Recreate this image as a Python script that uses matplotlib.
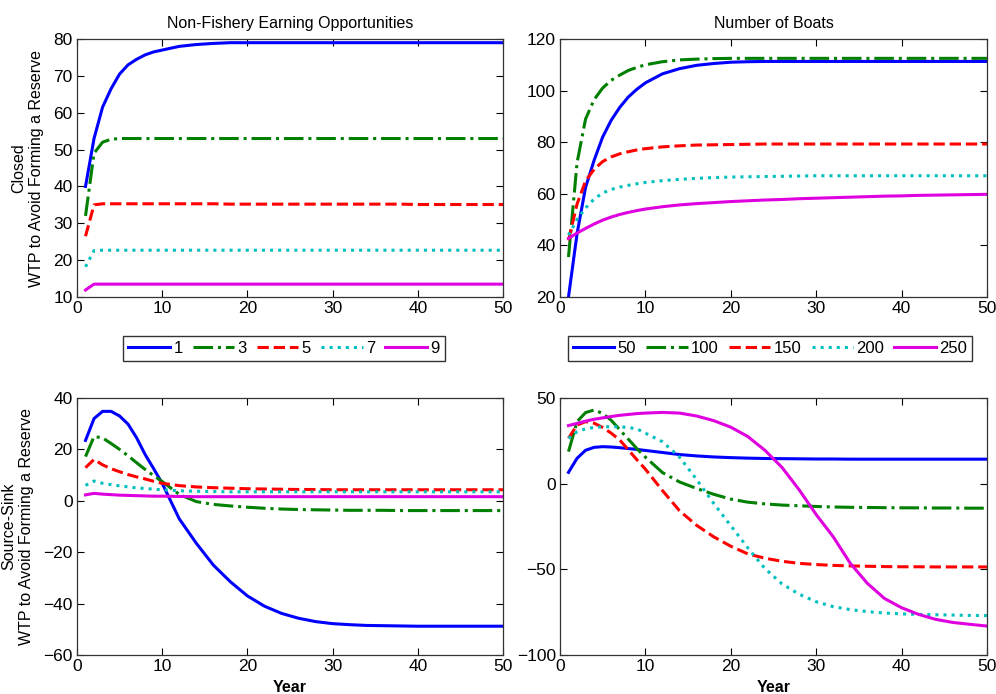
import matplotlib
matplotlib.use("Agg")
import matplotlib.pyplot as plt
from matplotlib.lines import Line2D

plt.rcParams["font.family"] = ["Liberation Sans", "DejaVu Sans"]

years = [1, 2, 3, 4, 5, 6, 7, 8, 9, 10, 12, 14, 16, 18, 20,
         22, 24, 26, 28, 30, 32, 34, 36, 38, 40, 42, 44, 46, 48, 50]

earning_labels = ["1", "3", "5", "7", "9"]
boat_labels = ["50", "100", "150", "200", "250"]

# Closed fishery, non-fishery earning opportunities
closed_earn_1 = [40, 53, 61.5, 66.5, 70.5, 73, 74.5, 75.7, 76.5, 77, 78, 78.5, 78.8, 79, 79,
                 79, 79, 79, 79, 79, 79, 79, 79, 79, 79, 79, 79, 79, 79, 79]
closed_earn_3 = [32, 49, 52, 52.8, 53, 53, 53, 53, 53, 53, 53, 53, 53, 53, 53,
                 53, 53, 53, 53, 53, 53, 53, 53, 53, 53, 53, 53, 53, 53, 53]
closed_earn_5 = [26.5, 35, 35.3, 35.3, 35.3, 35.3, 35.3, 35.3, 35.3, 35.3, 35.3, 35.3, 35.3, 35.2, 35.2,
                 35.2, 35.2, 35.2, 35.2, 35.2, 35.2, 35.2, 35.2, 35.2, 35.1, 35.1, 35.1, 35.1, 35.1, 35.1]
closed_earn_7 = [18.2, 22.6, 22.7, 22.7, 22.7, 22.7, 22.7, 22.7, 22.7, 22.7, 22.7, 22.7, 22.7, 22.7, 22.7,
                 22.7, 22.7, 22.7, 22.7, 22.7, 22.7, 22.7, 22.7, 22.7, 22.7, 22.7, 22.7, 22.7, 22.7, 22.7]
closed_earn_9 = [11.9, 13.5, 13.5, 13.5, 13.5, 13.5, 13.5, 13.5, 13.5, 13.5, 13.5, 13.5, 13.5, 13.5, 13.5,
                 13.5, 13.5, 13.5, 13.5, 13.5, 13.5, 13.5, 13.5, 13.5, 13.5, 13.5, 13.5, 13.5, 13.5, 13.5]

# Closed fishery, number of boats
closed_boats_50 = [20, 44.5, 62.5, 73, 82, 88.5, 93.5, 97.5, 100.5, 103, 106.5, 108.5, 109.8, 110.5, 111,
                   111.2, 111.3, 111.3, 111.3, 111.3, 111.3, 111.3, 111.3, 111.3, 111.3, 111.3, 111.3, 111.3, 111.3, 111.3]
closed_boats_100 = [35.5, 72, 89, 96.5, 101, 104, 106, 107.8, 109, 110, 111.2, 111.9, 112.2, 112.4, 112.5,
                    112.5, 112.5, 112.5, 112.5, 112.5, 112.5, 112.5, 112.5, 112.5, 112.5, 112.5, 112.5, 112.5, 112.5, 112.5]
closed_boats_150 = [42, 56, 65, 69.5, 72.5, 74.3, 75.5, 76.3, 77, 77.5, 78.2, 78.6, 78.9, 79, 79.1,
                    79.2, 79.3, 79.3, 79.3, 79.3, 79.3, 79.3, 79.3, 79.3, 79.3, 79.3, 79.3, 79.3, 79.3, 79.3]
closed_boats_200 = [44, 50, 54.5, 58, 60.3, 61.7, 62.6, 63.3, 63.9, 64.4, 65.1, 65.6, 66, 66.3, 66.5,
                    66.6, 66.7, 66.8, 66.9, 67, 67, 67, 67, 67, 67, 67, 67, 67, 67, 67]
closed_boats_250 = [42.7, 44.8, 46.6, 48.3, 49.8, 51, 52, 52.8, 53.5, 54.1, 55, 55.7, 56.2, 56.6, 57,
                    57.3, 57.6, 57.8, 58.1, 58.3, 58.5, 58.7, 58.9, 59.1, 59.2, 59.4, 59.5, 59.6, 59.7, 59.8]

# Source-sink, non-fishery earning opportunities
ss_earn_1 = [23.5, 32, 34.8, 34.8, 33, 29.8, 24.5, 18, 12.5, 6.8, -7, -16.5, -25, -31.5, -37,
             -41, -43.8, -45.7, -47, -47.8, -48.2, -48.5, -48.6, -48.7, -48.8, -48.8, -48.8, -48.8, -48.8, -48.8]
ss_earn_3 = [17.2, 25, 24.5, 22.3, 20, 17.5, 14.8, 12.2, 9.8, 7.5, 2.5, -0.3, -1.4, -2, -2.5,
             -2.9, -3.2, -3.4, -3.5, -3.6, -3.7, -3.7, -3.7, -3.8, -3.8, -3.8, -3.8, -3.8, -3.8, -3.8]
ss_earn_5 = [12.9, 16.1, 14, 12.5, 11.3, 10.2, 9.3, 8.5, 7.6, 6.8, 5.9, 5.4, 5.1, 4.9, 4.7,
             4.6, 4.5, 4.4, 4.4, 4.3, 4.3, 4.3, 4.3, 4.3, 4.3, 4.3, 4.3, 4.3, 4.3, 4.3]
ss_earn_7 = [6, 7.7, 6.8, 6.3, 5.8, 5.4, 5, 4.8, 4.5, 4.3, 3.9, 3.7, 3.6, 3.5, 3.5,
             3.5, 3.5, 3.5, 3.5, 3.5, 3.5, 3.5, 3.5, 3.5, 3.5, 3.5, 3.5, 3.5, 3.5, 3.5]
ss_earn_9 = [2.3, 2.9, 2.6, 2.4, 2.2, 2.1, 2, 1.9, 1.8, 1.8, 1.7, 1.6, 1.6, 1.6, 1.6,
             1.6, 1.6, 1.6, 1.6, 1.6, 1.6, 1.6, 1.6, 1.6, 1.6, 1.6, 1.6, 1.6, 1.6, 1.6]

# Source-sink, number of boats
ss_boats_50 = [6.6, 14.8, 19.5, 21.2, 21.6, 21.4, 21, 20.5, 20, 19.4, 18.2, 17, 16.2, 15.6, 15.2,
               14.9, 14.7, 14.6, 14.5, 14.4, 14.4, 14.3, 14.3, 14.3, 14.3, 14.3, 14.3, 14.3, 14.3, 14.3]
ss_boats_100 = [18.7, 36.2, 41.5, 43, 41, 37, 31.5, 26, 20.5, 15.5, 6.5, 1, -2.8, -6.2, -9,
                -10.8, -11.8, -12.5, -12.9, -13.3, -13.6, -13.8, -13.9, -14, -14.1, -14.1, -14.2, -14.2, -14.3, -14.3]
ss_boats_150 = [26.5, 34.2, 36.2, 35.3, 32.8, 29.5, 25.5, 19.8, 14, 8.5, -4, -15.8, -24.3, -31, -36.5,
                -41, -43.5, -45.3, -46.5, -47.2, -47.7, -48, -48.2, -48.4, -48.5, -48.5, -48.6, -48.6, -48.6, -48.6]
ss_boats_200 = [26.5, 30.3, 32, 32.8, 33.2, 33.3, 33.2, 32.8, 32, 29.5, 24.5, 15.5, 2.5, -11.5, -24.5,
                -37.5, -49.5, -58.5, -64.5, -68.9, -71.8, -73.5, -74.7, -75.5, -76, -76.3, -76.5, -76.7, -76.9, -77]
ss_boats_250 = [33.9, 35.2, 36.5, 37.6, 38.4, 39.2, 39.9, 40.4, 40.9, 41.2, 41.6, 41.2, 39.5, 36.8, 33,
                27.5, 19.5, 9.5, -3.5, -18, -31, -46.5, -58.2, -67, -72.4, -76.3, -79.2, -81, -82.1, -83.1]

colors = ["#0000ff", "#007f00", "#ff0000", "#00bfbf", "#df00df"]
styles = ["-", "-.", "--", ":", "-"]


def draw_panel(
        ax,
        series,
        ylim,
        yticks
):

    for values, color, style in zip(series, colors, styles):
        ax.plot(
            years,
            values,
            color=color,
            linestyle=style,
            linewidth=2.2
        )

    ax.set_xlim(0, 50)
    ax.set_ylim(*ylim)
    ax.set_xticks(range(0, 51, 10))
    ax.set_yticks(yticks)

    ax.tick_params(
        direction="in",
        top=True,
        right=True,
        length=5,
        width=0.8,
        labelsize=12.5,
        pad=3
    )

    for spine in ax.spines.values():
        spine.set_linewidth(0.9)
        spine.set_color("#333333")


fig = plt.figure(
    figsize=(9.96, 6.94),
    dpi=100
)

ax_tl = fig.add_axes([0.0773, 0.572, 0.4277, 0.3718])
ax_tr = fig.add_axes([0.5622, 0.572, 0.4287, 0.3718])
ax_bl = fig.add_axes([0.0773, 0.0562, 0.4277, 0.3703])
ax_br = fig.add_axes([0.5622, 0.0562, 0.4287, 0.3703])

draw_panel(
    ax_tl,
    [closed_earn_1, closed_earn_3, closed_earn_5, closed_earn_7, closed_earn_9],
    (10, 80),
    range(10, 81, 10)
)

draw_panel(
    ax_tr,
    [closed_boats_50, closed_boats_100, closed_boats_150, closed_boats_200, closed_boats_250],
    (20, 120),
    range(20, 121, 20)
)

draw_panel(
    ax_bl,
    [ss_earn_1, ss_earn_3, ss_earn_5, ss_earn_7, ss_earn_9],
    (-60, 40),
    range(-60, 41, 20)
)

draw_panel(
    ax_br,
    [ss_boats_50, ss_boats_100, ss_boats_150, ss_boats_200, ss_boats_250],
    (-100, 50),
    range(-100, 51, 50)
)

ax_tl.set_title("Non-Fishery Earning Opportunities", fontsize=11.5, pad=8)
ax_tr.set_title("Number of Boats", fontsize=11.5, pad=8)

ax_tl.set_ylabel("Closed\nWTP to Avoid Forming a Reserve", fontsize=11.5, labelpad=7)
ax_bl.set_ylabel("Source-Sink\nWTP to Avoid Forming a Reserve", fontsize=11.5, labelpad=7)

ax_bl.set_xlabel("Year", fontsize=11.5, fontweight="bold", labelpad=4)
ax_br.set_xlabel("Year", fontsize=11.5, fontweight="bold", labelpad=4)


def add_legend(
        labels,
        center_x
):

    handles = [
        Line2D([], [], color=c, linestyle=s, linewidth=2.2)
        for c, s in zip(colors, styles)
    ]

    fig.legend(
        handles,
        labels,
        loc="center",
        bbox_to_anchor=(center_x, 0.4978),
        ncol=5,
        fontsize=12,
        handlelength=2.5,
        handletextpad=0.2,
        columnspacing=0.6,
        borderpad=0.3,
        borderaxespad=0,
        fancybox=False,
        edgecolor="#333333",
        framealpha=1
    )


add_legend(earning_labels, 0.2851)
add_legend(boat_labels, 0.773)

fig.savefig(
    "out.png",
    dpi=100
)

plt.close(fig)
